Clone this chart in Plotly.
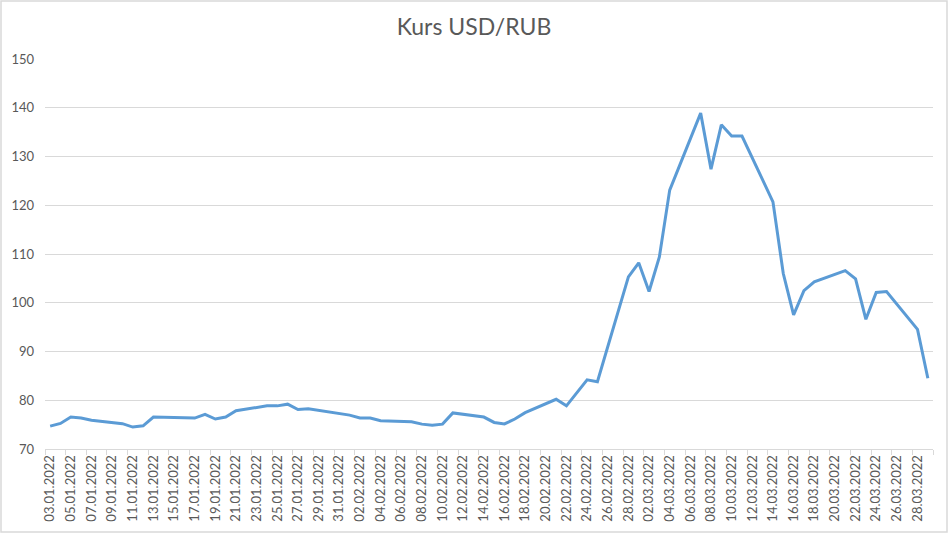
"""
Kurs USD/RUB — Jan-Mar 2022 (weekday closes)
Modules: pandas, plotly
"""

import pandas as pd
import plotly.graph_objects as go

# ─────────────────────────────────────────
# 1. DATA
# ─────────────────────────────────────────

dates = [
    "2022-01-03", "2022-01-04", "2022-01-05", "2022-01-06", "2022-01-07",
    "2022-01-10", "2022-01-11", "2022-01-12", "2022-01-13", "2022-01-14",
    "2022-01-17", "2022-01-18", "2022-01-19", "2022-01-20", "2022-01-21",
    "2022-01-24", "2022-01-25", "2022-01-26", "2022-01-27", "2022-01-28",
    "2022-01-31", "2022-02-01", "2022-02-02", "2022-02-03", "2022-02-04",
    "2022-02-07", "2022-02-08", "2022-02-09", "2022-02-10", "2022-02-11",
    "2022-02-14", "2022-02-15", "2022-02-16", "2022-02-17", "2022-02-18",
    "2022-02-21", "2022-02-22", "2022-02-23", "2022-02-24", "2022-02-25",
    "2022-02-28", "2022-03-01", "2022-03-02", "2022-03-03", "2022-03-04",
    "2022-03-07", "2022-03-08", "2022-03-09", "2022-03-10", "2022-03-11",
    "2022-03-14", "2022-03-15", "2022-03-16", "2022-03-17", "2022-03-18",
    "2022-03-21", "2022-03-22", "2022-03-23", "2022-03-24", "2022-03-25",
    "2022-03-28", "2022-03-29",
]

usd_rub = [
    74.7, 75.25, 76.55, 76.35, 75.9,
    75.2, 74.5, 74.75, 76.55, 76.5,
    76.35, 77.1, 76.15, 76.55, 77.85,
    78.85, 78.85, 79.2, 78.1, 78.25,
    77.3, 76.95, 76.35, 76.35, 75.8,
    75.6, 75.1, 74.85, 75.1, 77.4,
    76.55, 75.45, 75.15, 76.15, 77.45,
    80.2, 78.85, 81.5, 84.2, 83.8,
    105.3, 108.2, 102.3, 109.4, 123.1,
    138.9, 127.4, 136.5, 134.2, 134.2,
    120.7, 106.0, 97.5, 102.5, 104.3,
    106.6, 104.9, 96.6, 102.1, 102.3,
    94.55, 84.5,
]

y_ticks = [70, 80, 90, 100, 110, 120, 130, 140, 150]

df = pd.DataFrame({"Date": pd.to_datetime(dates), "Kurs": usd_rub})

# ─────────────────────────────────────────
# 2. CHART
# ─────────────────────────────────────────

GRAY_TXT  = "#595959"
GRID      = "#d9d9d9"
LINE_BLUE = "#5b9bd5"
DAY_MS    = 86400000

W, H = 948, 533
M = dict(l=45, r=15, t=59, b=84)
pw = W - M["l"] - M["r"]
ph = H - M["t"] - M["b"]

fig = go.Figure()
fig.add_trace(
    go.Scatter(
        x=df["Date"], y=df["Kurs"],
        mode="lines",
        line=dict(color=LINE_BLUE, width=3),
        showlegend=False,
    )
)

fig.update_layout(
    width=W, height=H,
    margin=M,
    paper_bgcolor="white",
    plot_bgcolor="white",
    title=dict(
        text="Kurs USD/RUB",
        x=0.5, xanchor="center",
        y=1 - 27 / H, yanchor="middle",
        font=dict(family="Lato", size=23, color=GRAY_TXT),
    ),
    font=dict(family="Lato", color=GRAY_TXT),
)

# date axis: one slot per calendar day, label every 2nd day
fig.update_xaxes(
    type="date",
    range=["2022-01-02 12:00", "2022-03-29 12:00"],
    tick0="2022-01-03", dtick=2 * DAY_MS,
    tickformat="%d.%m.%Y",
    tickangle=-90,
    tickfont=dict(family="Lato", size=13, color=GRAY_TXT),
    ticks="outside", ticklen=0,
    showgrid=False,
    showline=True, linecolor=GRID, linewidth=1,
    minor=dict(
        tick0="2022-01-02 12:00", dtick=2 * DAY_MS,
        ticks="outside", ticklen=5, tickcolor=GRID, showgrid=False,
    ),
    zeroline=False,
)

fig.update_yaxes(
    range=[70, 150],
    tickvals=y_ticks,
    tickfont=dict(family="Lato", size=13, color=GRAY_TXT),
    showgrid=True, gridcolor=GRID, gridwidth=1,
    showline=False, zeroline=False,
    ticks="", ticklabelstandoff=10,
)

# light chart-area border like the Excel frame
fig.add_shape(
    type="rect", xref="paper", yref="paper",
    x0=(1 - M["l"]) / pw, x1=(W - 1 - M["l"]) / pw,
    y0=(H - M["b"] - (H - 1)) / ph, y1=(H - M["b"] - 1) / ph,
    line=dict(color=GRID, width=1.5),
    layer="below",
)

# drop the browser's default body margin so the figure sits at 0,0
fig.write_html(
    "out.html",
    config={"displayModeBar": False},
    post_script="document.body.style.margin='0';document.body.style.overflow='hidden';",
)
